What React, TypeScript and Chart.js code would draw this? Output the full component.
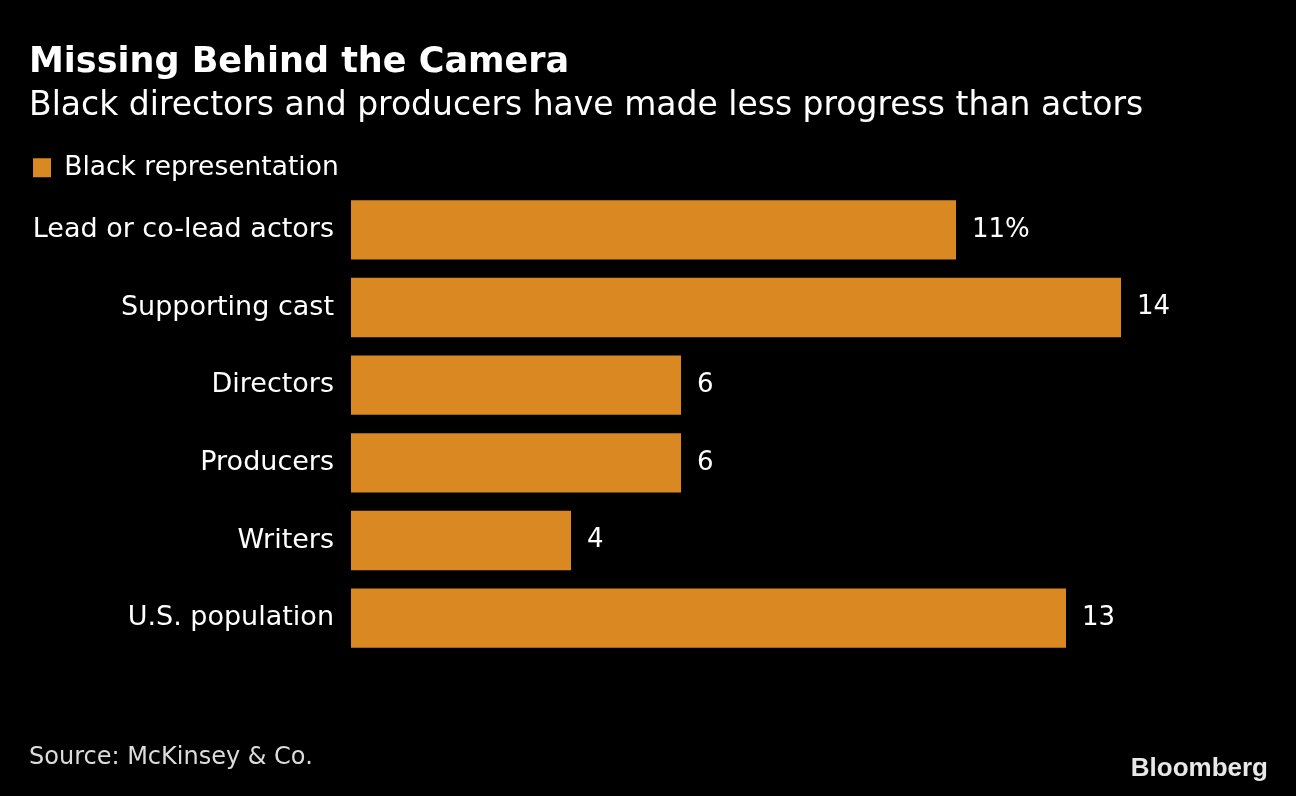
import React, { useEffect, useRef } from "react";
import { Chart, registerables } from "chart.js";

Chart.register(...registerables);

const categories = [
  "Lead or co-lead actors",
  "Supporting cast",
  "Directors",
  "Producers",
  "Writers",
  "U.S. population",
];
const values = [11, 14, 6, 6, 4, 13];
const valueLabels = ["11%", "14", "6", "6", "4", "13"];
const seriesName = "Black representation";
const titleText = "Missing Behind the Camera";
const subtitleText = "Black directors and producers have made less progress than actors";
const sourceText = "Source: McKinsey & Co.";
const brandText = "Bloomberg";

const FONT = "'DejaVu Sans', 'Noto Sans', sans-serif";
const BAR_COLOR = "#DA8822";

export default function App() {
  const ref = useRef<HTMLCanvasElement | null>(null);

  useEffect(() => {
    const canvas = ref.current;
    if (!canvas) return;

    const extras = {
      id: "extras",
      afterDatasetsDraw(chart: any) {
        const ctx = chart.ctx;
        const meta = chart.getDatasetMeta(0);
        ctx.save();
        ctx.fillStyle = "#ffffff";
        ctx.font = `26px ${FONT}`;
        ctx.textAlign = "left";
        ctx.textBaseline = "middle";
        meta.data.forEach((bar: any, i: number) => {
          ctx.fillText(valueLabels[i], bar.x + 16, bar.y);
        });
        ctx.restore();
      },
      afterDraw(chart: any) {
        const ctx = chart.ctx;
        ctx.save();
        ctx.textBaseline = "middle";
        ctx.fillStyle = "#dcdcdc";
        ctx.font = `24px ${FONT}`;
        ctx.textAlign = "left";
        ctx.fillText(sourceText, 29, 758);
        ctx.fillStyle = "#e8e8e8";
        ctx.font = `bold 26px 'Liberation Sans', Arial, sans-serif`;
        ctx.textAlign = "right";
        ctx.fillText(brandText, 1268, 769);
        ctx.restore();
      },
    };

    const chart = new Chart(canvas, {
      type: "bar",
      data: {
        labels: categories,
        datasets: [
          {
            label: seriesName,
            data: values,
            backgroundColor: BAR_COLOR,
            borderWidth: 0,
            categoryPercentage: 1,
            barPercentage: 0.765,
          },
        ],
      },
      options: {
        indexAxis: "y",
        responsive: false,
        animation: false,
        devicePixelRatio: 1,
        layout: { padding: { left: 29, right: 65, top: 2, bottom: 139 } },
        scales: {
          x: { display: false, min: 0, max: 16 },
          y: {
            grid: { display: false, drawTicks: false },
            border: { display: false },
            ticks: {
              color: "#ffffff",
              font: { family: FONT, size: 27 },
              padding: 17,
            },
            afterFit(scale: any) {
              scale.width = 322;
            },
          },
        },
        plugins: {
          title: {
            display: true,
            text: titleText,
            align: "start",
            color: "#ffffff",
            font: { family: FONT, size: 35, weight: "bold", lineHeight: 1.2 },
            padding: { top: 40, bottom: 0 },
          },
          subtitle: {
            display: true,
            text: subtitleText,
            align: "start",
            color: "#ffffff",
            font: { family: FONT, size: 33, lineHeight: 1.2 },
            padding: { top: 2.7, bottom: 24.2 },
          },
          legend: {
            display: true,
            position: "top",
            align: "start",
            labels: {
              color: "#ffffff",
              font: { family: FONT, size: 26.5 },
              boxWidth: 18,
              boxHeight: 19,
              padding: 4,
            },
          },
          tooltip: { enabled: false },
        },
      },
      plugins: [extras],
    });

    return () => chart.destroy();
  }, []);

  return (
    <div
      style={{
        position: "fixed",
        left: 0,
        top: 0,
        width: 1296,
        height: 796,
        background: "#000000",
      }}
    >
      <canvas ref={ref} width={1296} height={796} style={{ display: "block" }} />
    </div>
  );
}
